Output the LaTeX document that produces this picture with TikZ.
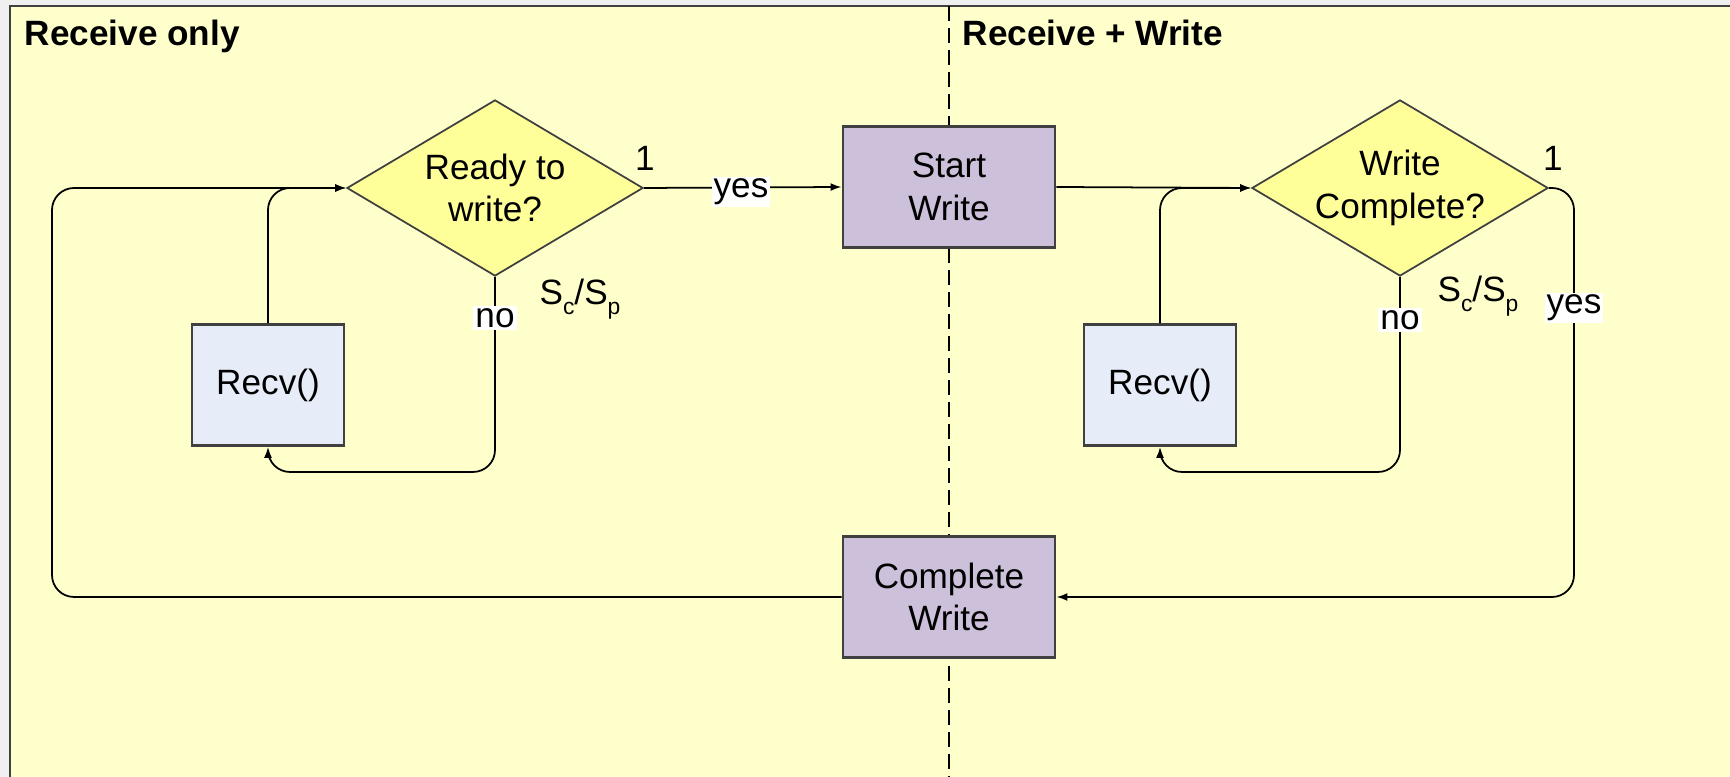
\documentclass[tikz,border=0pt]{standalone}
\usepackage{fontspec}
\setmainfont{Liberation Sans}
\usetikzlibrary{shapes.geometric,arrows.meta,positioning}
\definecolor{flowBack}{RGB}{255,255,204}
\definecolor{flowMargin}{RGB}{240,240,240}
\definecolor{flowDiamond}{RGB}{255,255,153}
\definecolor{flowRecv}{RGB}{230,236,248}
\definecolor{flowWrite}{RGB}{204,192,218}
\definecolor{flowEdge}{RGB}{64,64,64}
\newcommand{\slowrate}{S\raisebox{-0.5ex}{\fontsize{6.5}{7}\selectfont c}/S\raisebox{-0.5ex}{\fontsize{6.5}{7}\selectfont p}}

\begin{document}
\begin{tikzpicture}[x=0.01cm, y=-0.01cm, font=\fontsize{10}{12}\selectfont,
    decide/.style={diamond, draw=flowEdge, line width=0.5pt, fill=flowDiamond,
        inner sep=0pt, minimum width=2.96cm, minimum height=1.76cm},
    recvbox/.style={draw=flowEdge, line width=0.8pt, fill=flowRecv,
        minimum width=1.52cm, minimum height=1.21cm},
    writebox/.style={draw=flowEdge, line width=0.8pt, fill=flowWrite,
        minimum width=2.12cm, minimum height=1.21cm, align=center},
    flowline/.style={black, line width=0.5pt, rounded corners=2.2mm},
    flow/.style={flowline, -{Latex[length=1.1mm,width=0.8mm]}},
    tag/.style={fill=white, inner sep=0.6pt},
    title/.style={anchor=base west, inner sep=0pt, font=\fontsize{10}{12}\selectfont\bfseries},
    every label/.style={align=center, inner sep=0pt}]
    % page and frame
    \useasboundingbox (0,0) rectangle (1730,777);
    \fill[flowMargin] (0,0) rectangle (1730,777);
    \fill[flowBack] (10,6) rectangle (1730,777);
    \draw[flowEdge, line width=0.6pt] (10,777) -- (10,6) -- (1730,6);

    % divider between the two modes
    \draw[black, line width=0.5pt, dash pattern=on 1.5mm off 0.7mm] (949,6) -- (949,777);

    % titles
    \node[title] (titleA) at (24,46) {Receive only};
    \node[title] (titleB) at (962,46) {Receive + Write};

    % key points of the loops
    \coordinate (loopA) at (268,472);
    \coordinate (loopB) at (1160,472);
    \coordinate (outerA) at (52,597);
    \coordinate (outerB) at (52,188);
    \coordinate (sideA) at (1574,188);
    \coordinate (sideB) at (1574,597);

    % nodes
    \node[decide, label={center:Ready to\\write?}] (ready) at (495,188) {};
    \node[writebox] (start) at (949,187) {Start\\Write};
    \node[decide, label={center:Write\\Complete?}] (check) at (1400,188) {};
    \node[recvbox] (recvA) at (268,385) {Recv()};
    \node[recvbox] (recvB) at (1160,385) {Recv()};
    \node[writebox] (done) at (949,597) {Complete\\Write};

    % connectors
    \draw[flow] (ready.south) |- (loopA) -- (recvA.south);
    \draw[flow] (recvA.north) |- (ready.west);
    \draw[flow] (done.west) -- (outerA) -- (outerB) -- (ready.west);
    \draw[flow] (ready.east) -- (start.west);
    \draw[flow] (start.east) -- (check.west);
    \draw[flow] (check.south) |- (loopB) -- (recvB.south);
    \draw[flow] (recvB.north) |- (check.west);
    \draw[flow] (check.east) -- (sideA) -- (sideB) -- (done.east);

    % labels
    \node[tag] (yesA) at (741,192) {yes};
    \node[tag] (noA) at (495,318) {no};
    \node[tag] (noB) at (1400,320) {no};
    \node[tag] (yesB) at (1574,308) {yes};
    \node[inner sep=0pt] (oneA) at (645,158) {1};
    \node[inner sep=0pt] (oneB) at (1553,158) {1};
    \node[inner sep=0pt] (rateA) at (580,299) {\slowrate};
    \node[inner sep=0pt] (rateB) at (1478,296) {\slowrate};
\end{tikzpicture}
\end{document}
